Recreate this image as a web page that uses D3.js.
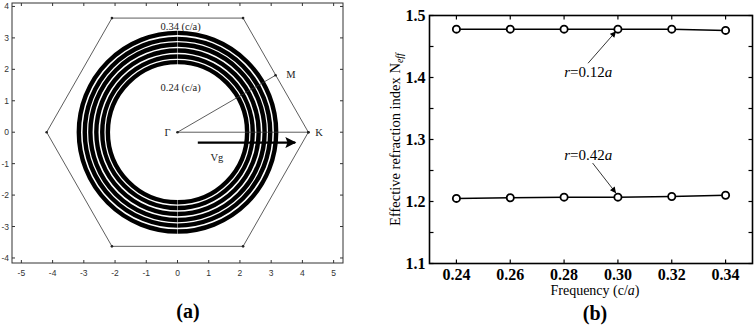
<!DOCTYPE html>
<html>
<head>
<meta charset="utf-8">
<script src="https://cdn.jsdelivr.net/npm/d3@7"></script>
<style>
  body { margin: 0; background: #fff; }
  svg { display: block; }
</style>
</head>
<body>
<svg id="chart" width="756" height="326"></svg>
<script>
// ---- data: panel (a) ----
var ringFreqs = [0.24, 0.26, 0.28, 0.30, 0.32, 0.34];
var ringRadii = [2.23, 2.41, 2.60, 2.79, 2.97, 3.16];
var hexVerts = [[4.19, 0], [2.1, 3.63], [-2.1, 3.63], [-4.19, 0], [-2.1, -3.63], [2.1, -3.63]];
var symPoints = [{name: 'Γ', x: 0, y: 0}, {name: 'M', x: 3.14, y: 1.81}, {name: 'K', x: 4.19, y: 0}];
var aTicksX = [-5, -4, -3, -2, -1, 0, 1, 2, 3, 4, 5];
var aTicksY = [-4, -3, -2, -1, 0, 1, 2, 3, 4];

// ---- data: panel (b) ----
var freqs = [0.24, 0.26, 0.28, 0.30, 0.32, 0.34];
var neffSmall = [1.478, 1.478, 1.478, 1.478, 1.478, 1.476]; // r = 0.12a
var neffLarge = [1.205, 1.206, 1.207, 1.207, 1.208, 1.210]; // r = 0.42a
var bTicksX = [0.24, 0.26, 0.28, 0.30, 0.32, 0.34];
var bTicksY = [1.1, 1.2, 1.3, 1.4, 1.5];
var bMinorY = [1.1, 1.15, 1.2, 1.25, 1.3, 1.35, 1.4, 1.45, 1.5];

var svg = d3.select('#chart');
svg.append('rect').attr('width', 756).attr('height', 326).attr('fill', '#fff');

// ================= panel (a) =================
var ax = d3.scaleLinear().domain([-5.3, 5.3]).range([12, 343]);
var ay = d3.scaleLinear().domain([-4.16, 4.11]).range([263, 3]);
var ga = svg.append('g');
var tickCol = '#333';

// rings
ga.selectAll('.ring').data(ringRadii).enter()
  .append('ellipse')
  .attr('cx', ax(0)).attr('cy', ay(0))
  .attr('rx', function(d) { return ax(d) - ax(0); })
  .attr('ry', function(d) { return ay(0) - ay(d); })
  .attr('fill', 'none').attr('stroke', '#000').attr('stroke-width', 4.4);

// seam where the contours start
ga.selectAll('.seam').data([1, -1]).enter().append('line')
  .attr('x1', ax(0)).attr('x2', ax(0))
  .attr('y1', function(d) { return ay(d * (ringRadii[0] - 0.1)); })
  .attr('y2', function(d) { return ay(d * (ringRadii[ringRadii.length - 1] + 0.1)); })
  .attr('stroke', '#fff').attr('stroke-width', 0.6).attr('opacity', 0.8);

// hexagon
var hexLine = d3.line().x(function(d) { return ax(d[0]); }).y(function(d) { return ay(d[1]); }).curve(d3.curveLinearClosed);
ga.append('path').attr('d', hexLine(hexVerts)).attr('fill', 'none').attr('stroke', '#333').attr('stroke-width', 0.8);
ga.selectAll('.hexdot').data(hexVerts).enter().append('circle')
  .attr('cx', function(d) { return ax(d[0]); }).attr('cy', function(d) { return ay(d[1]); })
  .attr('r', 1.3).attr('fill', '#222');

// Γ-M and Γ-K lines
symPoints.slice(1).forEach(function(p) {
  ga.append('line').attr('x1', ax(0)).attr('y1', ay(0)).attr('x2', ax(p.x)).attr('y2', ay(p.y))
    .attr('stroke', '#333').attr('stroke-width', 0.8);
});
ga.selectAll('.symdot').data(symPoints).enter().append('circle')
  .attr('cx', function(d) { return ax(d.x); }).attr('cy', function(d) { return ay(d.y); })
  .attr('r', 1.3).attr('fill', '#222');

// labels
var aLabels = [
  {t: 'Γ', x: -0.32, y: 0},
  {t: 'M', x: 3.63, y: 1.85},
  {t: 'K', x: 4.53, y: 0},
  {t: 'Vg', x: 1.26, y: -0.8},
  {t: ringFreqs[ringFreqs.length - 1] + ' (c/a)', x: 0.1, y: 3.36},
  {t: ringFreqs[0] + ' (c/a)', x: 0.1, y: 1.42}
];
ga.selectAll('.alab').data(aLabels).enter().append('text')
  .attr('x', function(d) { return ax(d.x); }).attr('y', function(d) { return ay(d.y); })
  .attr('text-anchor', 'middle').attr('dominant-baseline', 'central')
  .style('font-family', '"Liberation Serif", "DejaVu Serif", serif').style('font-size', '10.5px')
  .attr('fill', '#222')
  .text(function(d) { return d.t; });

// group-velocity arrow
var defs = svg.append('defs');
defs.append('marker').attr('id', 'bigHead').attr('viewBox', '0 0 10 10')
  .attr('refX', 9).attr('refY', 5).attr('markerWidth', 6).attr('markerHeight', 5)
  .attr('markerUnits', 'strokeWidth').attr('orient', 'auto')
  .append('path').attr('d', 'M0,0 L10,5 L0,10 L2,5 Z').attr('fill', '#000');
ga.append('line').attr('x1', ax(0.65)).attr('y1', ay(-0.33)).attr('x2', ax(3.77)).attr('y2', ay(-0.33))
  .attr('stroke', '#000').attr('stroke-width', 2.2).attr('marker-end', 'url(#bigHead)');

// frame and ticks
ga.append('rect').attr('x', ax(-5.3)).attr('y', ay(4.11))
  .attr('width', ax(5.3) - ax(-5.3)).attr('height', ay(-4.16) - ay(4.11))
  .attr('fill', 'none').attr('stroke', '#333').attr('stroke-width', 1);
var tl = 3;
aTicksX.forEach(function(v) {
  ga.append('line').attr('x1', ax(v)).attr('x2', ax(v)).attr('y1', ay(-4.16)).attr('y2', ay(-4.16) - tl).attr('stroke', tickCol);
  ga.append('line').attr('x1', ax(v)).attr('x2', ax(v)).attr('y1', ay(4.11)).attr('y2', ay(4.11) + tl).attr('stroke', tickCol);
});
aTicksY.forEach(function(v) {
  ga.append('line').attr('x1', ax(-5.3)).attr('x2', ax(-5.3) + tl).attr('y1', ay(v)).attr('y2', ay(v)).attr('stroke', tickCol);
  ga.append('line').attr('x1', ax(5.3)).attr('x2', ax(5.3) - tl).attr('y1', ay(v)).attr('y2', ay(v)).attr('stroke', tickCol);
});
ga.selectAll('.axl').data(aTicksX).enter().append('text')
  .attr('x', function(d) { return ax(d); }).attr('y', ay(-4.16) + 10)
  .attr('text-anchor', 'middle').attr('dominant-baseline', 'central')
  .style('font-family', '"Liberation Sans", Arial, sans-serif').style('font-size', '8.5px').attr('fill', tickCol)
  .text(function(d) { return d; });
ga.selectAll('.ayl').data(aTicksY).enter().append('text')
  .attr('x', ax(-5.3) - 3).attr('y', function(d) { return ay(d); })
  .attr('text-anchor', 'end').attr('dominant-baseline', 'central')
  .style('font-family', '"Liberation Sans", Arial, sans-serif').style('font-size', '8.5px').attr('fill', tickCol)
  .text(function(d) { return d; });

svg.append('text').attr('x', 188).attr('y', 318).attr('text-anchor', 'middle')
  .style('font-family', '"Liberation Serif", serif').style('font-weight', 'bold').style('font-size', '20px')
  .text('(a)');

// ================= panel (b) =================
var bx = d3.scaleLinear().domain([0.23, 0.35]).range([429.5, 752.5]);
var by = d3.scaleLinear().domain([1.1, 1.5]).range([263.5, 15.5]);
var gb = svg.append('g');
var serif = '"Liberation Serif", "Times New Roman", serif';

// ticks (inward)
var btl = 4;
bTicksX.forEach(function(v) {
  gb.append('line').attr('x1', bx(v)).attr('x2', bx(v)).attr('y1', by(1.5)).attr('y2', by(1.5) + btl).attr('stroke', '#000').attr('stroke-width', 1.2);
  gb.append('line').attr('x1', bx(v)).attr('x2', bx(v)).attr('y1', by(1.1)).attr('y2', by(1.1) - btl).attr('stroke', '#000').attr('stroke-width', 1.2);
});
bMinorY.forEach(function(v) {
  gb.append('line').attr('x1', bx(0.23)).attr('x2', bx(0.23) + btl).attr('y1', by(v)).attr('y2', by(v)).attr('stroke', '#000').attr('stroke-width', 1.2);
  gb.append('line').attr('x1', bx(0.35)).attr('x2', bx(0.35) - btl).attr('y1', by(v)).attr('y2', by(v)).attr('stroke', '#000').attr('stroke-width', 1.2);
});

gb.append('rect').attr('x', bx(0.23)).attr('y', by(1.5))
  .attr('width', bx(0.35) - bx(0.23)).attr('height', by(1.1) - by(1.5))
  .attr('fill', 'none').attr('stroke', '#000').attr('stroke-width', 1.6);

gb.selectAll('.bxl').data(bTicksX).enter().append('text')
  .attr('x', function(d) { return bx(d); }).attr('y', by(1.1) + 16)
  .attr('text-anchor', 'middle')
  .style('font-family', serif).style('font-weight', 'bold').style('font-size', '16px')
  .text(function(d) { return d3.format('.2f')(d); });
gb.selectAll('.byl').data(bTicksY).enter().append('text')
  .attr('x', bx(0.23) - 4).attr('y', function(d) { return by(d) + 5.5; })
  .attr('text-anchor', 'end')
  .style('font-family', serif).style('font-weight', 'bold').style('font-size', '16px')
  .text(function(d) { return d3.format('.1f')(d); });

// series
var bLine = d3.line().x(function(d) { return bx(d[0]); }).y(function(d) { return by(d[1]); });
[neffSmall, neffLarge].forEach(function(vals) {
  var pts = d3.zip(freqs, vals);
  gb.append('path').attr('d', bLine(pts)).attr('fill', 'none').attr('stroke', '#000').attr('stroke-width', 1.5);
  gb.selectAll(null).data(pts).enter().append('circle')
    .attr('cx', function(d) { return bx(d[0]); }).attr('cy', function(d) { return by(d[1]); })
    .attr('r', 3.6).attr('fill', '#fff').attr('stroke', '#000').attr('stroke-width', 1.8);
});

// annotations (text position and arrow, in data units)
defs.append('marker').attr('id', 'smallHead').attr('viewBox', '0 0 10 10')
  .attr('refX', 10).attr('refY', 5).attr('markerWidth', 7).attr('markerHeight', 6)
  .attr('markerUnits', 'userSpaceOnUse').attr('orient', 'auto')
  .append('path').attr('d', 'M0,0 L10,5 L0,10 Z').attr('fill', '#000');
var notes = [
  {r: '0.12', tx: 0.289, ty: 1.401, x1: 0.2889, y1: 1.423, x2: 0.2993, y2: 1.4745},
  {r: '0.42', tx: 0.289, ty: 1.267, x1: 0.2906, y1: 1.262, x2: 0.2993, y2: 1.2135}
];
notes.forEach(function(n) {
  gb.append('line').attr('x1', bx(n.x1)).attr('y1', by(n.y1)).attr('x2', bx(n.x2)).attr('y2', by(n.y2))
    .attr('stroke', '#000').attr('stroke-width', 0.8).attr('marker-end', 'url(#smallHead)');
  var t = gb.append('text').attr('x', bx(n.tx)).attr('y', by(n.ty)).attr('text-anchor', 'middle')
    .style('font-family', serif).style('font-size', '15px');
  t.append('tspan').style('font-style', 'italic').text('r');
  t.append('tspan').text('=' + n.r);
  t.append('tspan').style('font-style', 'italic').text('a');
});

// axis titles
var yt = gb.append('text').attr('transform', 'translate(400,' + ((by(1.1) + by(1.5)) / 2) + ') rotate(-90)')
  .attr('text-anchor', 'middle')
  .style('font-family', serif).style('font-size', '14.5px');
yt.append('tspan').text('Effective refraction index N');
yt.append('tspan').attr('dy', 3).style('font-size', '10px').style('font-style', 'italic').text('eff');

var xt = gb.append('text').attr('x', 595).attr('y', 295).attr('text-anchor', 'middle')
  .style('font-family', serif).style('font-size', '14px');
xt.append('tspan').text('Frequency (c/');
xt.append('tspan').style('font-style', 'italic').text('a');
xt.append('tspan').text(')');

svg.append('text').attr('x', 595).attr('y', 320).attr('text-anchor', 'middle')
  .style('font-family', serif).style('font-weight', 'bold').style('font-size', '20px')
  .text('(b)');
</script>
</body>
</html>
